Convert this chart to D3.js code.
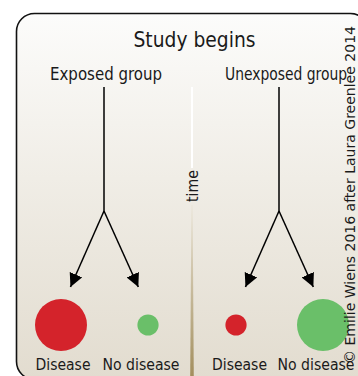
<!DOCTYPE html>
<html>
<head>
<meta charset="utf-8">
<script src="https://cdn.jsdelivr.net/npm/d3@7"></script>
<style>
  html, body { margin: 0; padding: 0; background: #fff; }
  svg { display: block; }
  text { font-family: "Liberation Sans Narrow", "DejaVu Sans Condensed", "Liberation Sans", sans-serif; fill: #1a1a1a; }
</style>
</head>
<body>
<div id="chart"></div>
<script>
// chart content
const title = "Study begins";
const groups = ["Exposed group", "Unexposed group"];
const outcomes = ["Disease", "No disease"];
// relative number of cases at the end of the study (circle area)
const exposedCounts = [6, 1];
const unexposedCounts = [1, 6];
const timeLabel = "time";
const credit = "\u00a9 Emilie Wiens 2016 after Laura Greenlee 2014";

const counts = [exposedCounts, unexposedCounts];
const colors = ["#d4232b", "#6abf69"];

const width = 358, height = 376;

const svg = d3.select('#chart').append('svg')
  .attr('width', width)
  .attr('height', height);

// background gradients
const defs = svg.append('defs');
const bg = defs.append('linearGradient')
  .attr('id', 'bgGrad')
  .attr('x1', 0).attr('y1', 0).attr('x2', 0).attr('y2', 1);
bg.append('stop').attr('offset', '0%').attr('stop-color', '#fcfcfb');
bg.append('stop').attr('offset', '45%').attr('stop-color', '#f0ede6');
bg.append('stop').attr('offset', '100%').attr('stop-color', '#e2dccf');

const timeGrad = defs.append('linearGradient')
  .attr('id', 'timeGrad')
  .attr('x1', 0).attr('y1', 0).attr('x2', 0).attr('y2', 1);
timeGrad.append('stop').attr('offset', '0%').attr('stop-color', '#ebe6da');
timeGrad.append('stop').attr('offset', '100%').attr('stop-color', '#a38f5e');

defs.append('marker')
  .attr('id', 'arrowHead')
  .attr('viewBox', '0 -5 10 10')
  .attr('refX', 10)
  .attr('refY', 0)
  .attr('markerWidth', 9)
  .attr('markerHeight', 9)
  .attr('markerUnits', 'strokeWidth')
  .attr('orient', 'auto')
  .append('path')
    .attr('d', 'M0,-5 L10,0 L0,5 Z')
    .attr('fill', '#000');

// panel
svg.append('rect')
  .attr('x', 16.5)
  .attr('y', 13.5)
  .attr('width', 352)
  .attr('height', 366)
  .attr('rx', 18)
  .attr('fill', 'url(#bgGrad)')
  .attr('stroke', '#111')
  .attr('stroke-width', 1.6);

// scales
const x = d3.scalePoint().domain(groups).range([104, 279]);
const dx = d3.scalePoint().domain(outcomes).range([-43, 44]);
const labelDx = d3.scalePoint().domain(outcomes).range([-41, 37]);
const r = d3.scaleSqrt().domain([0, d3.max(counts.flat())]).range([0, 26]);

const yTitle = 47, yGroup = 80, yStemTop = 87, yFork = 211, yTip = 287,
      yCircle = 325, yOutcome = 370;

// divider line with the time label
const cx = (x(groups[0]) + x(groups[1])) / 2 + 0.5;
svg.append('line')
  .attr('x1', cx).attr('x2', cx)
  .attr('y1', yStemTop).attr('y2', 168)
  .attr('stroke', '#ffffff')
  .attr('stroke-width', 2);
svg.append('path')
  .attr('d', `M${cx - 0.6},205 L${cx + 0.6},205 L${cx + 1.8},${height} L${cx - 1.8},${height} Z`)
  .attr('fill', 'url(#timeGrad)');
svg.append('text')
  .attr('transform', `translate(${cx + 6},186) rotate(-90)`)
  .attr('text-anchor', 'middle')
  .attr('font-size', 15)
  .attr('textLength', 32)
  .attr('lengthAdjust', 'spacingAndGlyphs')
  .text(timeLabel);

// title
svg.append('text')
  .attr('x', (x(groups[0]) + x(groups[1])) / 2 + 3)
  .attr('y', yTitle)
  .attr('text-anchor', 'middle')
  .attr('font-size', 22)
  .attr('textLength', 122)
  .attr('lengthAdjust', 'spacingAndGlyphs')
  .text(title);

const groupWidths = [112, 122];

const group = svg.selectAll('.group')
  .data(groups)
  .join('g')
    .attr('class', 'group')
    .attr('transform', d => `translate(${x(d)},0)`);

group.append('text')
  .attr('x', (d, i) => i === 0 ? 2 : 7)
  .attr('y', yGroup)
  .attr('text-anchor', 'middle')
  .attr('font-size', 17)
  .attr('textLength', (d, i) => groupWidths[i])
  .attr('lengthAdjust', 'spacingAndGlyphs')
  .text(d => d);

group.append('line')
  .attr('x1', 0).attr('x2', 0)
  .attr('y1', yStemTop).attr('y2', yFork)
  .attr('stroke', '#000')
  .attr('stroke-width', 1.5);

group.selectAll('.branch')
  .data(outcomes)
  .join('line')
    .attr('class', 'branch')
    .attr('x1', 0).attr('y1', yFork)
    .attr('x2', d => dx(d) * 0.78).attr('y2', yTip)
    .attr('stroke', '#000')
    .attr('stroke-width', 1.5)
    .attr('marker-end', 'url(#arrowHead)');

group.selectAll('.outcome')
  .data((g, gi) => outcomes.map((o, oi) => ({outcome: o, oi, value: counts[gi][oi]})))
  .join('circle')
    .attr('class', 'outcome')
    .attr('cx', d => dx(d.outcome))
    .attr('cy', yCircle)
    .attr('r', d => r(d.value))
    .attr('fill', d => colors[d.oi]);

const outcomeWidths = [55, 77];
group.selectAll('.outcome-label')
  .data(outcomes)
  .join('text')
    .attr('class', 'outcome-label')
    .attr('x', (d, i, nodes) => labelDx(d) + (d3.select(nodes[i].parentNode).datum() === groups[1] && i === 0 ? 1.5 : 0))
    .attr('y', yOutcome)
    .attr('text-anchor', 'middle')
    .attr('font-size', 16.5)
    .attr('textLength', (d, i) => outcomeWidths[i])
    .attr('lengthAdjust', 'spacingAndGlyphs')
    .text(d => d);

// credit line
svg.append('text')
  .attr('transform', 'translate(355,195) rotate(-90)')
  .attr('text-anchor', 'middle')
  .attr('font-size', 13.5)
  .attr('textLength', 338)
  .attr('lengthAdjust', 'spacingAndGlyphs')
  .text(credit);
</script>
</body>
</html>
